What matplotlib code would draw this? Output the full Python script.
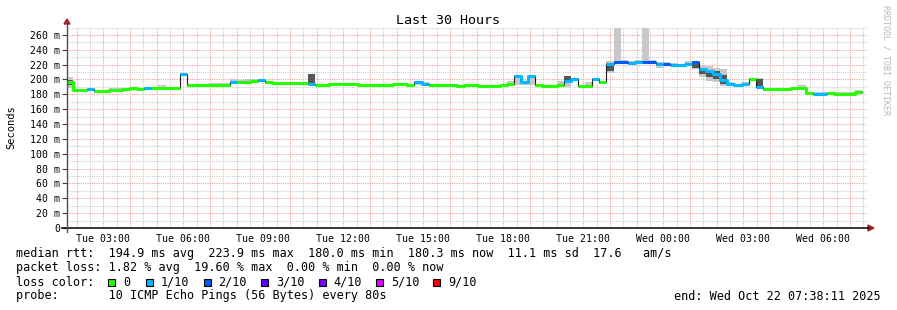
import datetime as dt

import numpy as np
import matplotlib
matplotlib.use("Agg")
import matplotlib.pyplot as plt
import matplotlib.dates as mdates
import matplotlib.ticker as mticker
from matplotlib.lines import Line2D
from matplotlib.patches import Polygon, Rectangle

W, H = 897, 310

t_start = dt.datetime(2025, 10, 21, 1, 38, 11)
t_end = dt.datetime(2025, 10, 22, 7, 38, 11)
day0 = dt.datetime(2025, 10, 21)
bin_min = 16      # consolidated step, 16 minutes
first_bin = 6     # index of the first bin, counted from Tue 00:00

# median rtt per bin (ms)
median = [196, 185.5, 185.5, 187, 185, 184, 186.5, 186.5, 187, 188,
          187.5, 189, 188, 189, 189, 189, 208, 192, 192, 192,
          192, 192.5, 193, 196, 197, 197, 197.5, 199, 196, 195.5,
          195, 195, 195, 195, 194.5, 193, 192, 193.5, 193.5, 193.5,
          193.5, 192, 193, 193, 193, 192.5, 194, 194, 192.5, 197,
          194.5, 192, 192, 192, 192, 191, 192, 192, 191, 191,
          191, 192, 193.5, 205, 197, 205, 192, 191.5, 191, 193,
          198, 201, 191.5, 191.5, 201, 196, 221.5, 223.5, 223.5, 222,
          224, 224, 223.5, 221.5, 221.5, 220, 219, 220.5, 223.5, 214.5,
          211, 207, 199, 194.5, 192, 194, 201, 190, 187.5, 187.5,
          187.5, 187.5, 188, 189, 181.5, 181, 181, 182, 181, 181,
          181, 183]

# lost pings out of 10 per bin
loss = [0, 0, 0, 1, 0, 0, 0, 0, 0, 0,
        0, 1, 0, 0, 0, 0, 1, 0, 0, 0,
        0, 0, 0, 1, 0, 0, 0, 1, 0, 0,
        0, 0, 0, 0, 1, 0, 0, 0, 0, 0,
        0, 0, 0, 0, 0, 0, 0, 0, 0, 1,
        1, 0, 0, 0, 0, 0, 0, 0, 0, 0,
        0, 0, 0, 1, 1, 1, 0, 0, 0, 0,
        1, 1, 0, 0, 1, 0, 1, 2, 2, 1,
        1, 2, 2, 1, 2, 1, 1, 1, 2, 1,
        1, 1, 1, 1, 1, 1, 0, 1, 0, 0,
        0, 0, 0, 0, 0, 1, 1, 0, 0, 0,
        0, 0]

# smoke spread above / below the median (ms)
smoke_up = [7, 1.5, 1.5, 1.5, 1.5, 1.5, 2, 1.5, 1.5, 1.5,
            1.5, 1.5, 1.5, 3.5, 1.5, 1.5, 1, 1.5, 1.5, 1.5,
            3, 3, 2, 4, 2, 3.5, 3, 1.5, 1.5, 1.5,
            1.5, 1.5, 1.5, 1.5, 13.5, 1.5, 1.5, 1.5, 1.5, 1.5,
            1.5, 1.5, 1.5, 1.5, 1.5, 1.5, 1.5, 1.5, 1.5, 1.5,
            2.5, 1.5, 1.5, 1.5, 1.5, 1.5, 1.5, 1.5, 1.5, 1.5,
            1.5, 1.5, 4.5, 1, 1.5, 1, 1.5, 1.5, 1.5, 5,
            7, 1.5, 1.5, 5.5, 1.5, 2.5, 3.5, 60, 2.5, 3,
            2, 60, 2.5, 1.5, 1.5, 2, 2, 4.5, 1.5, 5.5,
            7, 9, 15, 2.5, 1.5, 2, 1.5, 12, 1.5, 1.5,
            1.5, 1.5, 1.5, 3, 1.5, 1.5, 1.5, 1.5, 1.5, 1.5,
            1.5, 2.5]
smoke_dn = [7, 1.5, 1.5, 1.5, 1.5, 1.5, 1.5, 1.5, 1.5, 1.5,
            1.5, 1.5, 1.5, 1.5, 1.5, 1.5, 1.5, 1.5, 1.5, 1.5,
            1.5, 1.5, 1.5, 1.5, 1.5, 1.5, 1.5, 1.5, 1.5, 1.5,
            1.5, 1.5, 1.5, 1.5, 1.5, 1.5, 1.5, 1.5, 1.5, 1.5,
            1.5, 1.5, 1.5, 1.5, 1.5, 1.5, 1.5, 1.5, 1.5, 4,
            3.5, 1.5, 1.5, 1.5, 1.5, 1.5, 1.5, 1.5, 1.5, 1.5,
            1.5, 1.5, 1.5, 12, 5, 12, 1.5, 1.5, 1.5, 1.5,
            8, 1.5, 1.5, 1.5, 1.5, 2.5, 12.5, 2, 1.5, 3,
            1.5, 1.5, 1.5, 5.5, 1.5, 1.5, 1.5, 1.5, 9.5, 11.5,
            13, 10, 8, 2.5, 2, 1.5, 1.5, 2, 1.5, 1.5,
            1.5, 1.5, 1.5, 1.5, 1.5, 1.5, 1.5, 1.5, 1.5, 1.5,
            1.5, 1.5]

# darker inner smoke for a few bins
core_bins = [6, 40, 76, 82, 94, 95, 96, 97, 98, 103]
core_lo = [192, 195, 198, 211, 215, 207, 203, 200, 194, 189]
core_hi = [199, 208, 205, 222, 223, 216, 213, 211, 206, 201]

loss_labels = ['0', '1/10', '2/10', '3/10', '4/10', '5/10', '9/10']
loss_colors = ['#26ff00', '#00b8ff', '#0059ff', '#5e00ff', '#7e00ff', '#dd00ff', '#ff0000']

line_rtt = "median rtt:  194.9 ms avg  223.9 ms max  180.0 ms min  180.3 ms now  11.1 ms sd  17.6   am/s"
line_loss = "packet loss: 1.82 % avg  19.60 % max  0.00 % min  0.00 % now"
line_probe = "probe:       10 ICMP Echo Pings (56 Bytes) every 80s"
end_text = "end: Wed Oct 22 07:38:11 2025"

plt.rcParams['font.family'] = ['DejaVu Sans Mono']

n = len(median)
edges = mdates.date2num([day0 + dt.timedelta(minutes=bin_min * (first_bin + i)) for i in range(n + 1)])
left = edges[:-1]
bw = edges[1] - edges[0]
med = np.array(median, dtype=float)
loss_arr = np.array(loss)
lo = med - np.array(smoke_dn)
hi = med + np.array(smoke_up)

fig = plt.figure(figsize=(W / 100, H / 100), dpi=100)
fig.patch.set_facecolor('white')
ax = fig.add_axes([67 / W, 1 - 228 / H, 800 / W, (228 - 27.5) / H])
ax.set_xlim(mdates.date2num(t_start), mdates.date2num(t_end))
ax.set_ylim(0, 270)
for s in ax.spines.values():
    s.set_visible(False)

# grid: red every hour / 20 ms, grey every half hour / 10 ms
ax.xaxis.set_major_locator(mdates.HourLocator())
ax.xaxis.set_minor_locator(mdates.MinuteLocator(byminute=[30]))


def xfmt(v, pos):
    d = mdates.num2date(v + 1e-6)
    return d.strftime('%a %H:%M') if d.hour % 3 == 0 else ''


ax.xaxis.set_major_formatter(mticker.FuncFormatter(xfmt))
ax.yaxis.set_major_locator(mticker.MultipleLocator(20))
ax.yaxis.set_minor_locator(mticker.MultipleLocator(10))
ax.yaxis.set_major_formatter(mticker.FuncFormatter(lambda v, p: '0' if v == 0 else '%d m' % v))
ax.set_axisbelow(True)
ax.grid(which='major', color='#f2a0a0', linestyle=(0, (1, 1)), linewidth=0.8)
ax.grid(which='minor', color='#cccccc', linestyle=(0, (1, 1)), linewidth=0.8)
ax.tick_params(axis='x', which='both', length=0, pad=4, labelsize=7.1)
ax.tick_params(axis='y', which='major', length=3.6, width=0.8, color='#404040', pad=1.4, labelsize=7.1)
ax.tick_params(axis='y', which='minor', length=0)

# smoke
ax.bar(left, hi - lo, bottom=lo, width=bw, align='edge', color='#c8c8c8', linewidth=0, zorder=2)
idx = [b - first_bin for b in core_bins]
ax.bar(left[idx], np.array(core_hi) - np.array(core_lo), bottom=core_lo, width=bw,
       align='edge', color='#555555', linewidth=0, zorder=3)

# median line, coloured by loss
ax.step(edges, np.append(med, med[-1]), where='post', color='#1a1a1a', lw=0.8, zorder=4)
for c in range(3):
    y = np.where(loss_arr == c, med, np.nan)
    ax.step(edges, np.append(y, y[-1]), where='post', color=loss_colors[c],
            lw=2.2, solid_capstyle='butt', zorder=5)


def fx(x):
    return x / W


def fy(y):
    return 1 - y / H


# axes with arrows
fig.add_artist(Line2D([fx(62), fx(869)], [fy(228), fy(228)], color='black', lw=1.1))
fig.add_artist(Line2D([fx(67), fx(67)], [fy(232), fy(23)], color='#505050', lw=1.0))
fig.add_artist(Polygon([(fx(64), fy(24)), (fx(70), fy(24)), (fx(67), fy(19))],
                       closed=True, color='#a02828', transform=fig.transFigure))
fig.add_artist(Polygon([(fx(868), fy(225)), (fx(868), fy(231)), (fx(874), fy(228))],
                       closed=True, color='#a02828', transform=fig.transFigure))

fig.text(fx(448), fy(24), 'Last 30 Hours', ha='center', va='baseline', fontsize=9.6)
fig.text(fx(11), fy(127), 'Seconds', rotation=90, ha='center', va='center', fontsize=7.5)
fig.text(fx(886), fy(5), 'RRDTOOL / TOBI OETIKER', rotation=270, ha='center', va='top',
         fontsize=6, color='#b8b8b8')

fs = 8.5
fig.text(fx(16), fy(257.5), line_rtt, fontsize=fs, va='baseline')
fig.text(fx(16), fy(271.5), line_loss, fontsize=fs, va='baseline')
fig.text(fx(16), fy(285.5), 'loss color:', fontsize=fs, va='baseline')
fig.text(fx(16), fy(299.5), line_probe, fontsize=fs, va='baseline')
fig.text(fx(881), fy(299.5), end_text, fontsize=fs, va='baseline', ha='right')

sq_x = [108, 146, 203.5, 261, 318.5, 376, 433]
for x0, lab, col in zip(sq_x, loss_labels, loss_colors):
    fig.add_artist(Rectangle((fx(x0), fy(286)), 7 / W, 7 / H, facecolor=col,
                             edgecolor='black', lw=0.8, transform=fig.transFigure))
    fig.text(fx(x0 + 15), fy(285.5), lab, fontsize=fs, va='baseline')

fig.savefig('out.png', dpi=100, facecolor='white')
